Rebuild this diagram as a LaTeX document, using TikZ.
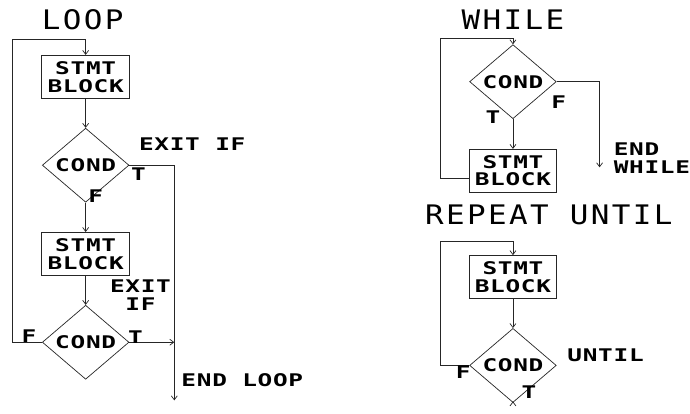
\documentclass[tikz,border=0pt]{standalone}
\usepackage{fontspec}
\usepackage{tikz}
\usetikzlibrary{arrows.meta,positioning,shapes.geometric}
\newfontfamily\fclabelfont[FakeStretch=1.4,LetterSpace=4]{DejaVu Sans Mono}
\newfontfamily\fctitlefont[FakeStretch=1.15,LetterSpace=9]{DejaVu Sans Mono}
\tikzset{
  fc/stmt/.style={draw, fc/line, minimum width=88pt, minimum height=43pt, inner sep=1pt, align=center, font=\fclabelfont\bfseries\fontsize{17.5}{18}\selectfont},
  fc/cond/.style={draw, fc/line, diamond, minimum width=87pt, minimum height=58pt, inner sep=0pt, font=\fclabelfont\bfseries\fontsize{17.5}{18}\selectfont},
  fc/title/.style={font=\fctitlefont\fontsize{27}{27}\selectfont, inner sep=0pt},
  fc/label/.style={font=\fclabelfont\bfseries\fontsize{17.5}{18}\selectfont, inner sep=0pt, align=left},
  fc/line/.style={line width=0.7pt, draw=black!85},
  fc/flow/.style={fc/line, -{Straight Barb[length=4pt,width=6pt]}}
}

\begin{document}
\begin{tikzpicture}[x=1pt, y=-1pt, node distance=29.5pt]
  \fill[white] (0,0) rectangle (690,415);

  % LOOP
  \node[fc/title] (tloop) at (83,20) {LOOP};
  \node[fc/stmt] (blk1) at (86,77) {STMT\\BLOCK};
  \node[fc/cond, below=of blk1] (cnd1) {COND};
  \node[fc/stmt, below=of cnd1] (blk2) {STMT\\BLOCK};
  \node[fc/cond, below=of blk2] (cnd2) {COND};
  \coordinate (lpL) at (12,40);
  \coordinate (lpEnd) at (175,402);

  \draw[fc/flow] (blk1) -- (cnd1);
  \draw[fc/flow] (cnd1) -- (blk2);
  \draw[fc/flow] (blk2) -- (cnd2);
  \draw[fc/flow] (cnd2.west) -| (lpL) -| (blk1.north);
  \draw[fc/flow] (cnd1.east) -| (lpEnd);
  \draw[fc/flow] (cnd2.east) -- (cnd2.east -| lpEnd);

  \node[fc/label] (x1) at (193,145) {EXIT IF};
  \node[fc/label] (t1) at (139,175) {T};
  \node[fc/label] (f1) at (96,197) {F};
  \node[fc/label, align=center] (x2) at (141,296) {EXIT\\IF};
  \node[fc/label] (f2) at (29,337) {F};
  \node[fc/label] (t2) at (136,338) {T};
  \node[fc/label, anchor=west] (endloop) at (182,382) {END LOOP};

  % WHILE
  \node[fc/title] (twhile) at (515,20) {WHILE};
  \node[fc/cond] (cnd3) at (515,82) {COND};
  \node[fc/stmt, below=30pt of cnd3] (blk3) {STMT\\BLOCK};
  \coordinate (wlL) at (442,38);
  \coordinate (wlEnd) at (602,168);

  \draw[fc/flow] (cnd3) -- (blk3);
  \draw[fc/flow] ([yshift=-8pt]blk3.west) -| (wlL) -| (cnd3.north);
  \draw[fc/flow] (cnd3.east) -| (wlEnd);

  \node[fc/label] (f3) at (561,103) {F};
  \node[fc/label] (t3) at (495,118) {T};
  \node[fc/label, anchor=west] (endwhile) at (616,159) {END\\WHILE};

  % REPEAT UNTIL
  \node[fc/title] (trep) at (551,216) {REPEAT UNTIL};
  \node[fc/stmt] (blk4) at (515,278) {STMT\\BLOCK};
  \node[fc/cond, below=of blk4] (cnd4) {COND};
  \coordinate (rlL) at (442,242);
  \coordinate (rlEnd) at (515,403);

  \draw[fc/flow] (blk4) -- (cnd4);
  \draw[fc/flow] (cnd4.west) -| (rlL) -| (blk4.north);
  \draw[fc/flow] (cnd4.south) -- (rlEnd);

  \node[fc/label] (until) at (608,357) {UNTIL};
  \node[fc/label] (f4) at (465,374) {F};
  \node[fc/label] (t4) at (531,394) {T};
\end{tikzpicture}
\end{document}
